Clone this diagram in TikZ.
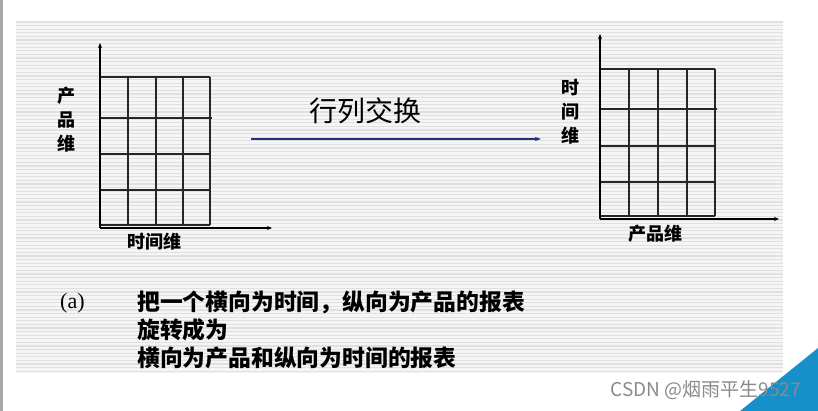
\documentclass[tikz,border=0pt]{standalone}
\usepackage{fontspec}
\setmainfont{Liberation Serif}
\newfontfamily\cjk{Noto Sans CJK SC}
\usepackage{tikz}
\usetikzlibrary{arrows.meta,positioning}
\definecolor{Stripe}{HTML}{E0E0E0}
\definecolor{SlideBg}{HTML}{F5F5F5}
\definecolor{SideBar}{HTML}{A8A8A8}
\definecolor{Navy}{HTML}{22307E}
\definecolor{Corner}{HTML}{1590C8}
\definecolor{Mark}{HTML}{8A8A8A}

\begin{document}
\begin{tikzpicture}[x=1pt,y=-1pt,
  axis/.style={-{Stealth[length=5pt,width=4pt]},line width=1.6pt,draw=black},
  cell/.style={line width=1.2pt,draw=black!85},
  dimlabel/.style={font=\cjk\bfseries\fontsize{18}{24}\selectfont,align=center,inner sep=0pt},
  swaparrow/.style={-{Stealth[length=6pt,width=4pt]},line width=2.4pt,draw=Navy},
  caption/.style={font=\cjk\bfseries\fontsize{22.8}{28}\selectfont,align=left,inner sep=0pt,anchor=north west}
]
  \useasboundingbox (0,0) rectangle (818,411);
  \fill[white] (0,0) rectangle (818,411);
  \fill[SideBar] (0,0) rectangle (3,411);
  % slide background
  \fill[SlideBg] (16,21) rectangle (783,373);
  \foreach \y in {22,25.6,...,372}
    \draw[Stripe,line width=1.3pt] (16,\y) -- (783,\y);

  % left report: time across, product down
  \coordinate (lo) at (100,228);
  \coordinate (ltop) at (100,43);
  \coordinate (lend) at (272,228);
  \foreach \x in {128,156,183,210}
    \draw[cell] (\x,77) -- (\x,225);
  \foreach \y in {77,154,190,225}
    \draw[cell] (100,\y) -- (210,\y);
  \draw[cell] (100,118) -- (212,118);
  \draw[axis] (lo) -- (ltop);
  \draw[axis] (lo) -- (lend);
  \node[dimlabel] (lprod) at (66,120) {产\\品\\维};
  \node[dimlabel] (ltime) at (154,242) {时间维};

  % swap arrow
  \coordinate (swapfrom) at (251,139);
  \coordinate (swapto) at (541,139);
  \draw[swaparrow] (swapfrom) -- (swapto);
  \node[font=\cjk\fontsize{28}{30}\selectfont,inner sep=0pt] (swap) at (365,111) {行列交换};

  % right report: product across, time down
  \coordinate (ro) at (600,219);
  \coordinate (rtop) at (600,34);
  \coordinate (rend) at (779,219);
  \foreach \x in {629,658,687,715}
    \draw[cell] (\x,69) -- (\x,216);
  \foreach \y in {69,146,182,216}
    \draw[cell] (600,\y) -- (715,\y);
  \draw[cell] (600,109) -- (717,109);
  \draw[axis] (ro) -- (rtop);
  \draw[axis] (ro) -- (rend);
  \node[dimlabel] (rtime) at (570,112) {时\\间\\维};
  \node[dimlabel] (rprod) at (655,234) {产品维};

  % caption
  \node[font=\fontsize{22}{28}\selectfont,inner sep=0pt,anchor=west] (tag) at (60,303) {(a)};
  \node[caption] (text) at (137,291) {把一个横向为时间，纵向为产品的报表\\旋转成为\\横向为产品和纵向为时间的报表};

  % corner mark
  \fill[Corner] (740,411) -- (818,348) -- (818,411) -- cycle;
  \node[font=\cjk\fontsize{19}{21}\selectfont,text=Mark,anchor=east,inner sep=0pt] (mark) at (801,390) {CSDN @烟雨平生9527};
\end{tikzpicture}
\end{document}
